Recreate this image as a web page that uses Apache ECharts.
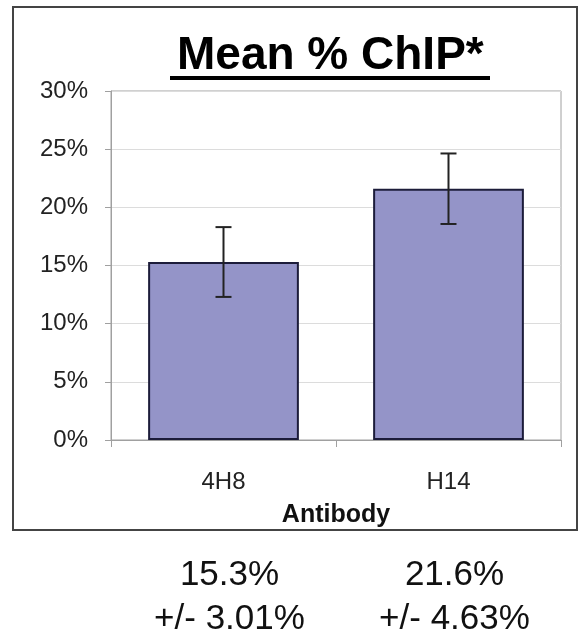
<!DOCTYPE html>
<html>
<head>
<meta charset="utf-8">
<style>
  html, body { margin: 0; padding: 0; background: #fff; }
  #main { width: 579px; height: 635px; }
</style>
<script src="https://cdn.jsdelivr.net/npm/echarts@6/dist/echarts.min.js"></script>
</head>
<body>
<div id="main"></div>
<script>
const categories = ['4H8', 'H14']
const meanValues = [15.3, 21.6]
// error bar half-heights as drawn in the picture
const errorHalf = [3.0, 3.03]
// spread printed under the chart
const reportedSpread = [3.01, 4.63]

const FONT = 'Arial, "Liberation Sans", sans-serif'

const chart = echarts.init(document.getElementById('main'))

chart.setOption({
  animation: false,
  title: {
    text: 'Mean % ChIP*',
    left: 172,
    top: 28,
    textStyle: { fontFamily: FONT, fontSize: 46, fontWeight: 'bold', color: '#000' }
  },
  graphic: [
    {
      type: 'rect',
      shape: { x: 13, y: 7, width: 564, height: 523 },
      style: { fill: null, stroke: '#444', lineWidth: 2 },
      silent: true
    },
    {
      type: 'line',
      shape: { x1: 170, y1: 78, x2: 490, y2: 78 },
      style: { stroke: '#000', lineWidth: 4 },
      silent: true
    }
  ],
  grid: {
    left: 111,
    right: 18,
    top: 91,
    bottom: 195,
    show: true,
    borderColor: '#a0a0a0',
    borderWidth: 1,
    containLabel: false,
    outerBoundsMode: 'none'
  },
  xAxis: [
    {
      type: 'category',
      data: categories,
      axisLine: { show: true, lineStyle: { color: '#a0a0a0' } },
      axisTick: { show: true, length: 7, lineStyle: { color: '#a0a0a0' } },
      axisLabel: { fontFamily: FONT, fontSize: 24, color: '#222', margin: 30 },
      name: 'Antibody',
      nameLocation: 'middle',
      nameGap: 63,
      nameTextStyle: { fontFamily: FONT, fontSize: 25, fontWeight: 'bold', color: '#111' }
    },
    {
      type: 'category',
      data: categories,
      position: 'bottom',
      offset: 100,
      axisLine: { show: false },
      axisTick: { show: false },
      splitLine: { show: false },
      axisLabel: {
        margin: 13,
        padding: [0, 0, 0, 12],
        fontFamily: FONT,
        fontSize: 35,
        lineHeight: 44,
        color: '#111',
        formatter: function (value, idx) {
          return meanValues[idx].toFixed(1) + '%\n+/- ' + reportedSpread[idx].toFixed(2) + '%'
        }
      }
    }
  ],
  yAxis: {
    type: 'value',
    min: 0,
    max: 30,
    interval: 5,
    axisLine: { show: true, lineStyle: { color: '#a0a0a0' } },
    axisTick: { show: true, length: 6, lineStyle: { color: '#a0a0a0' } },
    splitLine: { show: true, lineStyle: { color: '#dcdcdc' } },
    axisLabel: {
      fontFamily: FONT,
      fontSize: 24,
      color: '#222',
      margin: 23,
      padding: [6, 0, 0, 0],
      formatter: '{value}%'
    }
  },
  series: [
    {
      type: 'bar',
      xAxisIndex: 0,
      data: meanValues,
      barWidth: '67%',
      itemStyle: { color: '#9494c8', borderColor: '#1c1c3a', borderWidth: 2 }
    },
    {
      type: 'custom',
      xAxisIndex: 0,
      data: meanValues.map((v, i) => [i, v - errorHalf[i], v + errorHalf[i]]),
      renderItem: function (params, api) {
        const lo = api.coord([api.value(0), api.value(1)])
        const hi = api.coord([api.value(0), api.value(2)])
        const cap = 8
        const style = { stroke: '#222', lineWidth: 2 }
        return {
          type: 'group',
          children: [
            { type: 'line', shape: { x1: hi[0], y1: hi[1], x2: lo[0], y2: lo[1] }, style: style },
            { type: 'line', shape: { x1: hi[0] - cap, y1: hi[1], x2: hi[0] + cap, y2: hi[1] }, style: style },
            { type: 'line', shape: { x1: lo[0] - cap, y1: lo[1], x2: lo[0] + cap, y2: lo[1] }, style: style }
          ]
        }
      },
      z: 10
    }
  ]
})
</script>
</body>
</html>
